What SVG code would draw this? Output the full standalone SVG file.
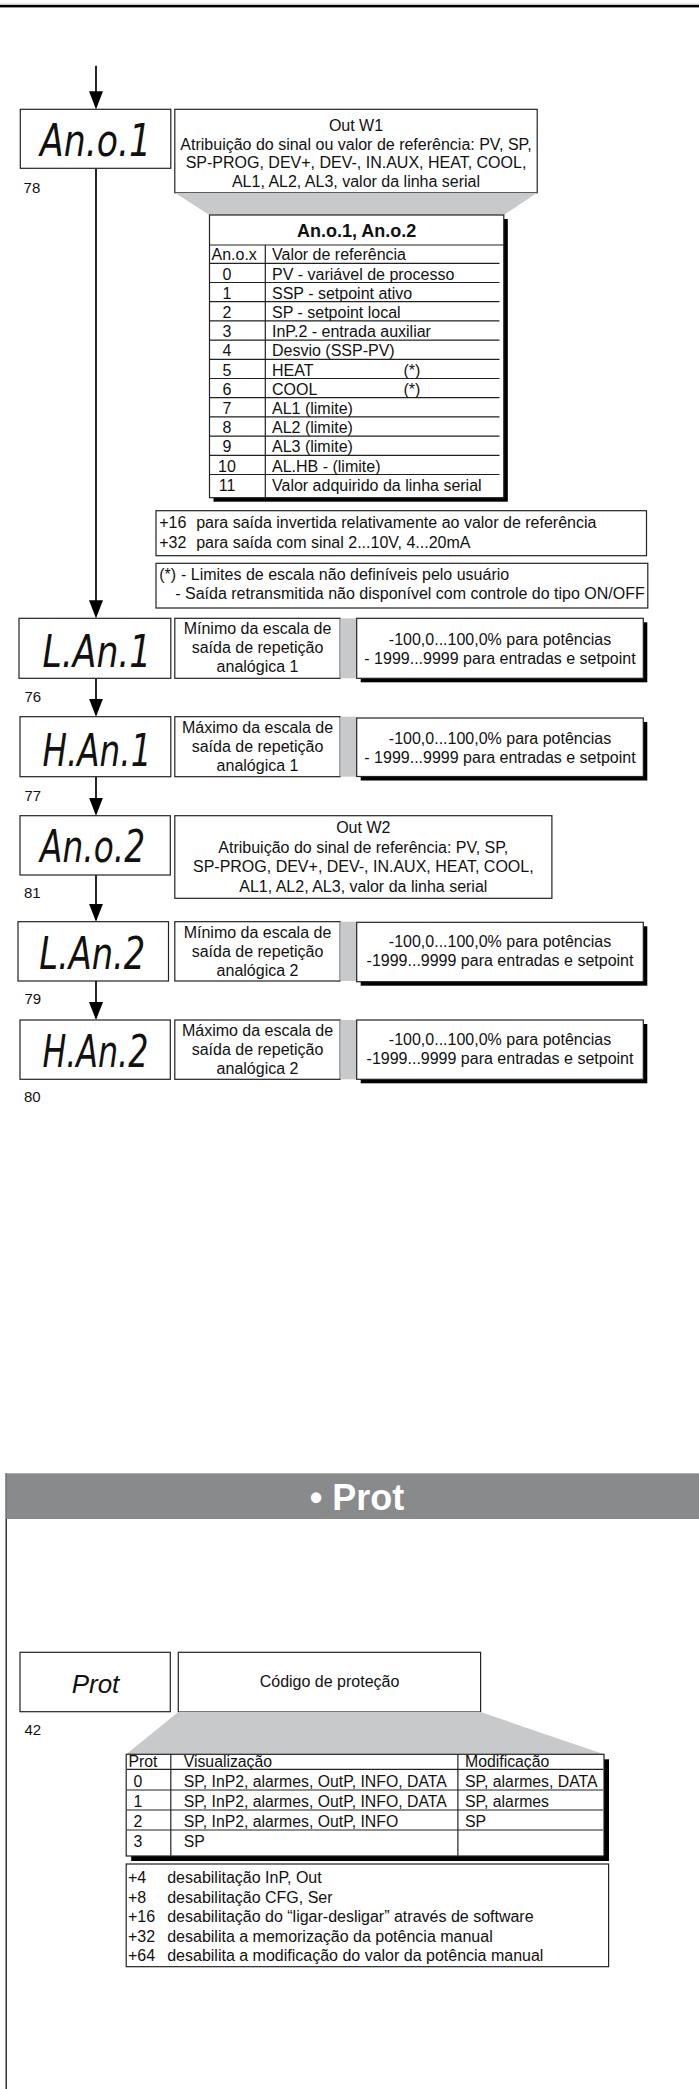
<svg xmlns="http://www.w3.org/2000/svg" width="699" height="2089" viewBox="0 0 699 2089">
<defs>
<marker id="ah" viewBox="0 0 18 14" refX="16" refY="7" markerWidth="18" markerHeight="14" markerUnits="userSpaceOnUse" orient="auto"><path d="M0,0 L18,7 L0,14 z" fill="#000"/></marker>
<style>
.t{font-family:"Liberation Sans",Arial,Helvetica,sans-serif;font-size:16px;fill:#111}
.m{text-anchor:middle}
.b{font-weight:bold}
.lbl{font-family:"Liberation Sans",Arial,sans-serif;font-size:15px;fill:#111}
.box{fill:#fff;stroke:#222;stroke-width:1.2}
.sh{fill:#000}
.gr{fill:#c8c9cb}
.seg{font-family:"DejaVu Sans","Liberation Sans",sans-serif;font-style:oblique;font-size:45px;fill:#111}
.rl{stroke:#222;stroke-width:1.2;fill:none}
.con{stroke:#000;stroke-width:1.7;fill:none;marker-end:url(#ah)}
.pt{font-size:15.8px}
</style>
</defs>
<rect width="699" height="2089" fill="#fff"/>
<line x1="0" y1="4.2" x2="699" y2="4.2" stroke="#b5b5b5" stroke-width="1"/>
<rect x="0" y="5" width="699" height="2.4" fill="#000"/>

<g id="connectors">
<line class="con" x1="96" y1="65.7" x2="96" y2="107.3"/>
<line class="con" x1="96" y1="168.3" x2="96" y2="616.3"/>
<line class="con" x1="96" y1="678.3" x2="96" y2="714.7"/>
<line class="con" x1="96" y1="776.7" x2="96" y2="813.7"/>
<line class="con" x1="96" y1="875" x2="96" y2="919.7"/>
<line class="con" x1="96" y1="981" x2="96" y2="1018"/>
</g>

<g id="node-ano1">
<rect class="box" x="20.3" y="109.3" width="150.5" height="59"/>
<text class="seg" x="40" y="155.7" textLength="111" lengthAdjust="spacingAndGlyphs">An.o.1</text>
<text class="lbl" x="23.6" y="193.3">78</text>
</g>

<g id="desc-ano1">
<rect class="box" x="174.8" y="109.3" width="362.4" height="83.4"/>
<text class="t m" x="356" y="131">Out W1</text>
<text class="t m" x="356" y="149.6">Atribuição do sinal ou valor de referência: PV, SP,</text>
<text class="t m" x="356" y="168.2">SP-PROG, DEV+, DEV-, IN.AUX, HEAT, COOL,</text>
<text class="t m" x="356" y="186.8">AL1, AL2, AL3, valor da linha serial</text>
</g>

<g id="table-ano">
<polygon class="gr" points="174.8,192.7 537.2,192.7 503.8,215 209.5,215"/>
<rect class="sh" x="213.5" y="219" width="294.3" height="282.7"/>
<rect class="box" x="209.5" y="215" width="294.3" height="282.7"/>
<text class="t m b" x="356.7" y="236.7" style="font-size:18px">An.o.1, An.o.2</text>
<line class="rl" x1="209.5" y1="245" x2="503.8" y2="245" stroke-width="1.6"/>
<line class="rl" x1="265.3" y1="245" x2="265.3" y2="497.7"/>
<g class="rl">
<line x1="210" y1="263.3" x2="499.5" y2="263.3"/>
<line x1="210" y1="282.5" x2="499.5" y2="282.5"/>
<line x1="210" y1="301.7" x2="499.5" y2="301.7"/>
<line x1="210" y1="320.9" x2="499.5" y2="320.9"/>
<line x1="210" y1="340.1" x2="499.5" y2="340.1"/>
<line x1="210" y1="359.3" x2="499.5" y2="359.3"/>
<line x1="210" y1="378.5" x2="499.5" y2="378.5"/>
<line x1="210" y1="397.7" x2="499.5" y2="397.7"/>
<line x1="210" y1="416.9" x2="499.5" y2="416.9"/>
<line x1="210" y1="436.1" x2="499.5" y2="436.1"/>
<line x1="210" y1="455.3" x2="499.5" y2="455.3"/>
<line x1="210" y1="474.5" x2="499.5" y2="474.5"/>
</g>
<text class="t" x="211.5" y="260.3">An.o.x</text>
<text class="t" x="272" y="260.3">Valor de referência</text>
<text class="t m" x="227" y="279.5">0</text><text class="t" x="272" y="279.5">PV - variável de processo</text>
<text class="t m" x="227" y="298.7">1</text><text class="t" x="272" y="298.7">SSP - setpoint ativo</text>
<text class="t m" x="227" y="317.9">2</text><text class="t" x="272" y="317.9">SP - setpoint local</text>
<text class="t m" x="227" y="337.1">3</text><text class="t" x="272" y="337.1">InP.2 - entrada auxiliar</text>
<text class="t m" x="227" y="356.3">4</text><text class="t" x="272" y="356.3">Desvio (SSP-PV)</text>
<text class="t m" x="227" y="375.5">5</text><text class="t" x="272" y="375.5">HEAT</text><text class="t" x="403.5" y="375.5">(*)</text>
<text class="t m" x="227" y="394.7">6</text><text class="t" x="272" y="394.7">COOL</text><text class="t" x="403.5" y="394.7">(*)</text>
<text class="t m" x="227" y="413.9">7</text><text class="t" x="272" y="413.9">AL1 (limite)</text>
<text class="t m" x="227" y="433.1">8</text><text class="t" x="272" y="433.1">AL2 (limite)</text>
<text class="t m" x="227" y="452.3">9</text><text class="t" x="272" y="452.3">AL3 (limite)</text>
<text class="t m" x="227" y="471.5">10</text><text class="t" x="272" y="471.5">AL.HB - (limite)</text>
<text class="t m" x="227" y="490.7">11</text><text class="t" x="272" y="490.7">Valor adquirido da linha serial</text>
</g>

<g id="note-offset">
<rect class="box" x="156" y="510.7" width="490.5" height="45"/>
<text class="t" x="159.2" y="528.3">+16</text><text class="t" x="196.2" y="528.3">para saída invertida relativamente ao valor de referência</text>
<text class="t" x="159.2" y="547.7">+32</text><text class="t" x="196.2" y="547.7">para saída com sinal 2...10V, 4...20mA</text>
</g>

<g id="note-limits">
<rect class="box" x="156" y="563.3" width="491.8" height="44.7"/>
<text class="t" x="159.2" y="580">(*)</text><text class="t" x="181" y="580">- Limites de escala não definíveis pelo usuário</text>
<text class="t" x="175.2" y="599.3">- Saída retransmitida não disponível com controle do tipo ON/OFF</text>
</g>

<g id="node-lan1">
<rect class="box" x="19" y="618.3" width="151.8" height="60"/>
<text class="seg" x="42.4" y="667.3" textLength="109" lengthAdjust="spacingAndGlyphs">L.An.1</text>
<text class="lbl" x="24.5" y="701.7">76</text>
<rect class="box" x="174.8" y="618.3" width="165.4" height="60"/>
<text class="t m" x="257.5" y="634.3">Mínimo da escala de</text>
<text class="t m" x="257.5" y="653.3">saída de repetição</text>
<text class="t m" x="257.5" y="672.3">analógica 1</text>
<rect class="gr" x="340.2" y="618.3" width="16.5" height="60"/>
<rect class="sh" x="360.7" y="622.3" width="286.6" height="60"/>
<rect class="box" x="356.7" y="618.3" width="286.6" height="60"/>
<text class="t m" x="500" y="644.5">-100,0...100,0% para potências</text>
<text class="t m" x="500" y="663.5">- 1999...9999 para entradas e setpoint</text>
</g>

<g id="node-han1">
<rect class="box" x="20" y="716.7" width="150.8" height="60"/>
<text class="seg" x="42.4" y="765.7" textLength="109" lengthAdjust="spacingAndGlyphs">H.An.1</text>
<text class="lbl" x="24.5" y="800.7">77</text>
<rect class="box" x="174.8" y="716.7" width="165.4" height="60"/>
<text class="t m" x="257.5" y="732.7">Máximo da escala de</text>
<text class="t m" x="257.5" y="751.7">saída de repetição</text>
<text class="t m" x="257.5" y="770.7">analógica 1</text>
<rect class="gr" x="340.2" y="716.7" width="16.5" height="60"/>
<rect class="sh" x="360.7" y="722" width="286.6" height="58.5"/>
<rect class="box" x="356.7" y="718" width="286.6" height="58.5"/>
<text class="t m" x="500" y="743.5">-100,0...100,0% para potências</text>
<text class="t m" x="500" y="762.5">- 1999...9999 para entradas e setpoint</text>
</g>

<g id="node-ano2">
<rect class="box" x="20" y="815.7" width="150.3" height="59.3"/>
<text class="seg" x="40" y="861.7" textLength="105" lengthAdjust="spacingAndGlyphs">An.o.2</text>
<text class="lbl" x="24" y="898.3">81</text>
</g>

<g id="desc-ano2">
<rect class="box" x="174.8" y="815.7" width="377.1" height="82.6"/>
<text class="t m" x="363.3" y="833.4">Out W2</text>
<text class="t m" x="363.3" y="852.8">Atribuição do sinal de referência: PV, SP,</text>
<text class="t m" x="363.3" y="872.2">SP-PROG, DEV+, DEV-, IN.AUX, HEAT, COOL,</text>
<text class="t m" x="363.3" y="891.6">AL1, AL2, AL3, valor da linha serial</text>
</g>

<g id="node-lan2">
<rect class="box" x="18" y="921.7" width="150.5" height="59.3"/>
<text class="seg" x="39.2" y="969" textLength="106" lengthAdjust="spacingAndGlyphs">L.An.2</text>
<text class="lbl" x="24.5" y="1004.3">79</text>
<rect class="box" x="174.8" y="921.7" width="165.4" height="59.3"/>
<text class="t m" x="257.5" y="937.7">Mínimo da escala de</text>
<text class="t m" x="257.5" y="956.7">saída de repetição</text>
<text class="t m" x="257.5" y="975.7">analógica 2</text>
<rect class="gr" x="340.2" y="921.7" width="16.5" height="59.3"/>
<rect class="sh" x="360.7" y="926.3" width="286.6" height="59.4"/>
<rect class="box" x="356.7" y="922.3" width="286.6" height="59.4"/>
<text class="t m" x="500" y="947.2">-100,0...100,0% para potências</text>
<text class="t m" x="500" y="966.2">-1999...9999 para entradas e setpoint</text>
</g>

<g id="node-han2">
<rect class="box" x="20" y="1020" width="150.3" height="59.3"/>
<text class="seg" x="42.4" y="1066.7" textLength="106" lengthAdjust="spacingAndGlyphs">H.An.2</text>
<text class="lbl" x="24" y="1101.7">80</text>
<rect class="box" x="174.8" y="1020" width="165.4" height="59.3"/>
<text class="t m" x="257.5" y="1036">Máximo da escala de</text>
<text class="t m" x="257.5" y="1055">saída de repetição</text>
<text class="t m" x="257.5" y="1074">analógica 2</text>
<rect class="gr" x="340.2" y="1020" width="16.5" height="59.3"/>
<rect class="sh" x="360.7" y="1024" width="286.6" height="59.3"/>
<rect class="box" x="356.7" y="1020" width="286.6" height="59.3"/>
<text class="t m" x="500" y="1045">-100,0...100,0% para potências</text>
<text class="t m" x="500" y="1064">-1999...9999 para entradas e setpoint</text>
</g>

<g id="section-prot">
<line x1="6.2" y1="1473.3" x2="6.2" y2="2089" stroke="#111" stroke-width="1.3"/>
<rect x="6.2" y="1473.3" width="692.8" height="45.7" fill="#898a8c"/>
<text x="357" y="1510" text-anchor="middle" style="font-family:'Liberation Sans',Arial,sans-serif;font-size:36px;font-weight:bold;fill:#fff">• Prot</text>
</g>

<g id="node-prot">
<rect class="box" x="20" y="1652.3" width="150.3" height="59.4"/>
<text x="95.5" y="1692.7" text-anchor="middle" style="font-family:'Liberation Sans',Arial,sans-serif;font-size:26px;font-style:italic;fill:#111">Prot</text>
<text class="lbl" x="24.5" y="1735">42</text>
</g>

<g id="desc-prot">
<rect class="box" x="178.3" y="1652.3" width="302.3" height="59.7"/>
<text class="t m" x="329.5" y="1686.7">Código de proteção</text>
</g>

<g id="table-prot">
<polygon class="gr" points="178.3,1712 480.6,1712 604,1754.3 126.2,1754.3"/>
<rect class="sh" x="131.2" y="1759.3" width="477.8" height="101.7"/>
<rect class="box" x="126.2" y="1754.3" width="477.8" height="101.7"/>
<line class="rl" x1="170.8" y1="1754.3" x2="170.8" y2="1856"/>
<line class="rl" x1="457.9" y1="1754.3" x2="457.9" y2="1856"/>
<g class="rl">
<line x1="127" y1="1769.3" x2="603" y2="1769.3"/>
<line x1="127" y1="1790" x2="603" y2="1790"/>
<line x1="127" y1="1810" x2="603" y2="1810"/>
<line x1="127" y1="1830" x2="603" y2="1830"/>
</g>
<text class="t pt" x="128.4" y="1766.7">Prot</text>
<text class="t pt" x="183.7" y="1766.7">Visualização</text>
<text class="t pt" x="465" y="1766.7">Modificação</text>
<text class="t pt m" x="137.8" y="1786.7">0</text>
<text class="t pt" x="183.7" y="1786.7">SP, InP2, alarmes, OutP, INFO, DATA</text>
<text class="t pt" x="465" y="1786.7">SP, alarmes, DATA</text>
<text class="t pt m" x="137.8" y="1806.7">1</text>
<text class="t pt" x="183.7" y="1806.7">SP, InP2, alarmes, OutP, INFO, DATA</text>
<text class="t pt" x="465" y="1806.7">SP, alarmes</text>
<text class="t pt m" x="137.8" y="1826.7">2</text>
<text class="t pt" x="183.7" y="1826.7">SP, InP2, alarmes, OutP, INFO</text>
<text class="t pt" x="465" y="1826.7">SP</text>
<text class="t pt m" x="137.8" y="1846.7">3</text>
<text class="t pt" x="183.7" y="1846.7">SP</text>
</g>

<g id="note-prot">
<rect class="box" x="126.2" y="1864" width="482.4" height="102.7"/>
<text class="t" x="128" y="1883.3">+4</text><text class="t" x="167.2" y="1883.3">desabilitação InP, Out</text>
<text class="t" x="128" y="1902.7">+8</text><text class="t" x="167.2" y="1902.7">desabilitação CFG, Ser</text>
<text class="t" x="128" y="1922.1">+16</text><text class="t" x="167.2" y="1922.1">desabilitação do “ligar-desligar” através de software</text>
<text class="t" x="128" y="1941.5">+32</text><text class="t" x="167.2" y="1941.5">desabilita a memorização da potência manual</text>
<text class="t" x="128" y="1960.9">+64</text><text class="t" x="167.2" y="1960.9">desabilita a modificação do valor da potência manual</text>
</g>
</svg>
